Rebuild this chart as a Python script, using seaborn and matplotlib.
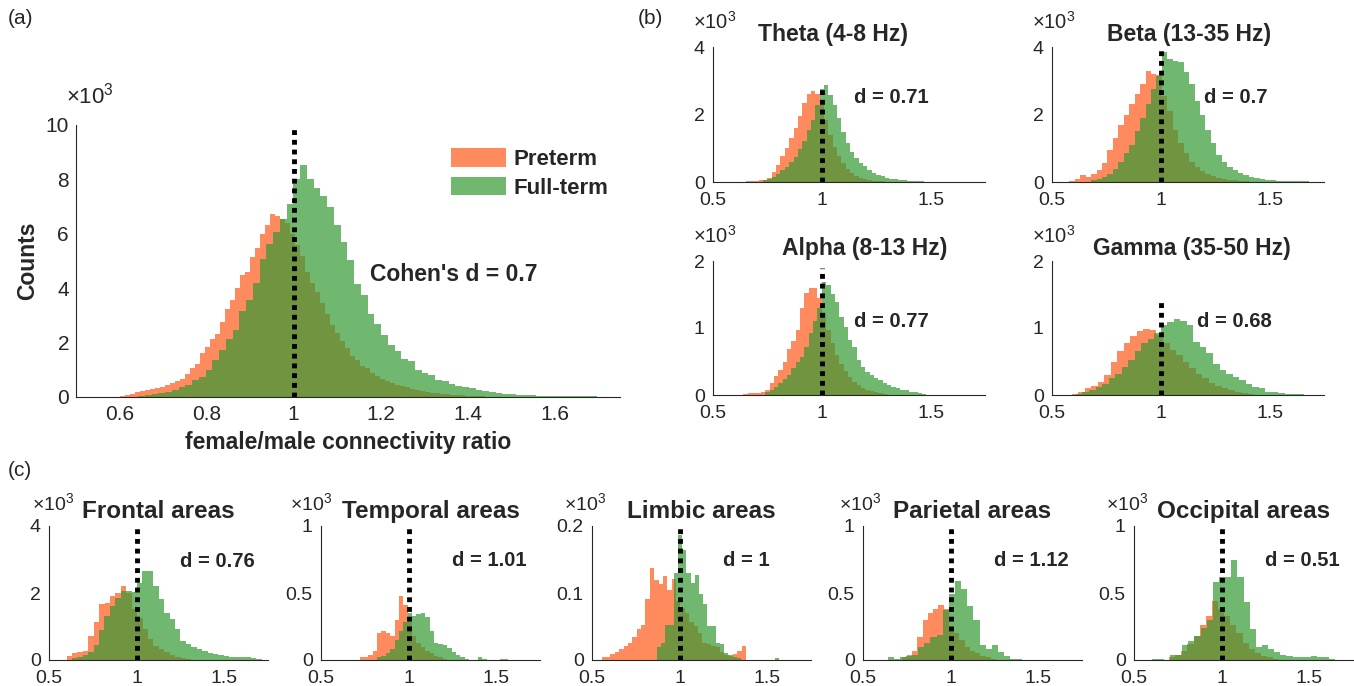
import numpy as np
import pandas as pd
import matplotlib
matplotlib.use("Agg")
import matplotlib.pyplot as plt
from matplotlib.patches import Patch
import seaborn as sns

# ---------------- data (counts in thousands) ----------------
series_names = ["Preterm", "Full-term"]

# (a) all connections
main_pre_start, main_pre_width = 0.60, 0.0115
main_pre = [0.03, 0.07, 0.12, 0.2, 0.22, 0.27, 0.3, 0.32, 0.38, 0.45, 0.52, 0.6, 0.68, 0.86,
            1.08, 1.23, 1.62, 1.82, 2.15, 2.33, 2.76, 3.25, 3.58, 3.99, 4.47, 4.6, 5.15, 5.46,
            5.98, 6.31, 6.72, 6.64, 6.55, 6.4, 6.0, 5.6, 5.2, 4.6, 4.2, 3.85, 3.45, 3.05, 2.65,
            2.35, 2.05, 1.8, 1.5, 1.35, 1.15, 1.05, 0.88, 0.76, 0.68, 0.6, 0.52, 0.45, 0.4, 0.35,
            0.3, 0.26, 0.22, 0.19, 0.16, 0.14, 0.12, 0.1, 0.08, 0.07, 0.06, 0.05, 0.04, 0.03, 0.02]
main_full_start, main_full_width = 0.643, 0.0155
main_full = [0.04, 0.08, 0.12, 0.16, 0.2, 0.27, 0.35, 0.45, 0.61, 0.74, 1.0, 1.35, 1.72, 2.15,
             2.48, 3.16, 3.56, 4.19, 5.09, 5.64, 6.07, 6.56, 7.11, 8.0, 8.52, 8.0, 7.7, 7.38, 7.0,
             6.31, 5.7, 5.05, 4.14, 3.74, 3.04, 2.7, 2.29, 1.93, 1.70, 1.41, 1.31, 1.0, 0.88, 0.82,
             0.64, 0.6, 0.48, 0.4, 0.36, 0.33, 0.27, 0.21, 0.17, 0.15, 0.12, 0.11, 0.09, 0.07, 0.06,
             0.05, 0.05, 0.04, 0.04, 0.03, 0.03, 0.02, 0.02, 0.02, 0.01]

# (b) frequency bands
theta_pre_start, theta_full_start, theta_width = 0.65, 0.73, 0.02
theta_pre = [0.02, 0.03, 0.04, 0.05, 0.07, 0.12, 0.3, 0.5, 0.76, 1.0, 1.3, 1.6, 1.95, 2.33, 2.62,
             2.7, 2.6, 2.38, 1.84, 1.4, 1.05, 0.76, 0.56, 0.38, 0.27, 0.18, 0.12, 0.08, 0.05, 0.04,
             0.03, 0.02]
theta_full = [0.05, 0.1, 0.15, 0.25, 0.35, 0.45, 0.6, 0.75, 0.98, 1.22, 1.55, 1.85, 2.28, 2.77,
              2.87, 2.57, 2.28, 1.89, 1.49, 1.17, 0.9, 0.71, 0.56, 0.46, 0.36, 0.28, 0.22, 0.17,
              0.13, 0.1, 0.08, 0.06, 0.05, 0.04, 0.03, 0.02, 0.02]

beta_pre_start, beta_full_start, beta_width = 0.58, 0.68, 0.025
beta_pre = [0.03, 0.08, 0.2, 0.15, 0.25, 0.35, 0.55, 0.95, 1.3, 1.7, 2.0, 2.3, 2.6, 2.9, 3.3, 3.2,
            3.16, 2.55, 2.1, 1.55, 1.15, 0.85, 0.6, 0.45, 0.33, 0.25, 0.18, 0.13, 0.1, 0.07, 0.05,
            0.04, 0.02]
beta_full = [0.05, 0.1, 0.15, 0.25, 0.4, 0.6, 0.85, 1.1, 1.5, 1.9, 2.3, 2.75, 3.15, 3.85, 3.65,
             3.6, 3.55, 3.25, 2.9, 2.4, 2.0, 1.55, 1.15, 0.8, 0.6, 0.45, 0.35, 0.28, 0.2, 0.15, 0.12,
             0.08, 0.07, 0.05, 0.04, 0.03, 0.03, 0.02, 0.02, 0.02]

alpha_pre_start, alpha_full_start, alpha_width = 0.64, 0.74, 0.02
alpha_pre = [0.02, 0.03, 0.03, 0.03, 0.04, 0.08, 0.18, 0.28, 0.38, 0.5, 0.68, 0.8, 0.97, 1.3, 1.52,
             1.6, 1.6, 1.45, 1.22, 0.97, 0.77, 0.6, 0.47, 0.36, 0.27, 0.2, 0.15, 0.11, 0.08, 0.06,
             0.04, 0.03, 0.02]
alpha_full = [0.05, 0.08, 0.12, 0.18, 0.24, 0.3, 0.4, 0.5, 0.57, 0.72, 0.92, 1.1, 1.3, 1.69, 1.64,
              1.51, 1.39, 1.17, 1.02, 0.82, 0.72, 0.52, 0.42, 0.35, 0.3, 0.26, 0.22, 0.18, 0.15,
              0.12, 0.1, 0.08, 0.07, 0.05, 0.04, 0.03, 0.02]

gamma_pre_start, gamma_full_start, gamma_width = 0.59, 0.61, 0.03
gamma_pre = [0.02, 0.05, 0.1, 0.14, 0.2, 0.3, 0.5, 0.66, 0.78, 0.88, 0.95, 0.99, 0.97, 0.9, 0.77,
             0.67, 0.6, 0.5, 0.4, 0.32, 0.25, 0.18, 0.13, 0.1, 0.07, 0.05, 0.03, 0.02]
gamma_full = [0.02, 0.04, 0.08, 0.12, 0.17, 0.25, 0.32, 0.42, 0.52, 0.65, 0.77, 0.84, 0.92, 1.04,
              1.09, 1.14, 1.1, 1.04, 0.79, 0.72, 0.62, 0.47, 0.37, 0.32, 0.27, 0.22, 0.17, 0.12,
              0.1, 0.05, 0.05, 0.03, 0.02, 0.02, 0.01]

# (c) brain areas
frontal_pre_start, frontal_full_start, frontal_width = 0.60, 0.63, 0.031
frontal_pre = [0.12, 0.2, 0.23, 0.28, 0.72, 1.12, 1.66, 1.69, 1.91, 1.99, 2.2, 2.0, 1.51, 1.26,
               0.92, 0.62, 0.42, 0.33, 0.23, 0.15, 0.1, 0.06, 0.04]
frontal_full = [0.05, 0.1, 0.15, 0.25, 0.45, 0.9, 1.3, 1.6, 1.85, 2.05, 2.05, 2.02, 2.3, 2.65,
                2.65, 2.2, 1.81, 1.41, 1.21, 0.92, 0.57, 0.47, 0.4, 0.33, 0.27, 0.21, 0.17, 0.15,
                0.12, 0.1, 0.1, 0.08, 0.08, 0.06, 0.03]

temporal_pre_start, temporal_full_start, temporal_width = 0.72, 0.82, 0.025
temporal_pre = [0.02, 0.02, 0.04, 0.07, 0.2, 0.22, 0.2, 0.18, 0.3, 0.48, 0.41, 0.28, 0.18, 0.13,
                0.1, 0.07, 0.05, 0.03, 0.02, 0.01]
temporal_full = [0.02, 0.03, 0.05, 0.08, 0.15, 0.22, 0.28, 0.35, 0.33, 0.34, 0.35, 0.32, 0.22,
                 0.13, 0.12, 0.11, 0.09, 0.06, 0.04, 0.02, 0.01, 0.0, 0.0, 0.02, 0.01, 0.0, 0.0,
                 0.0, 0.01, 0.01]

limbic_pre_start, limbic_full_start = 0.555, 0.871
limbic_pre_width, limbic_full_width = 0.025, 0.024
limbic_pre = [0.004, 0.005, 0.009, 0.012, 0.016, 0.021, 0.026, 0.034, 0.046, 0.052, 0.091, 0.137,
              0.12, 0.114, 0.125, 0.105, 0.121, 0.088, 0.078, 0.07, 0.056, 0.051, 0.04, 0.026,
              0.024, 0.021, 0.019, 0.012, 0.008, 0.006, 0.009, 0.014, 0.021]
limbic_full = [0.019, 0.025, 0.052, 0.052, 0.13, 0.187, 0.164, 0.13, 0.115, 0.127, 0.098, 0.083,
               0.051, 0.051, 0.026, 0.024, 0.011, 0.007, 0.004, 0.003, 0.0, 0.0, 0.0, 0.0, 0.0,
               0.0, 0.0, 0.0, 0.003]

parietal_pre_start, parietal_full_start = 0.72, 0.64
parietal_pre_width, parietal_full_width = 0.03, 0.035
parietal_pre = [0.02, 0.04, 0.07, 0.17, 0.3, 0.35, 0.38, 0.41, 0.38, 0.25, 0.2, 0.15, 0.1, 0.07,
                0.05, 0.03, 0.02, 0.01]
parietal_full = [0.02, 0.01, 0.02, 0.03, 0.04, 0.1, 0.13, 0.17, 0.19, 0.37, 0.49, 0.59, 0.53, 0.4,
                 0.3, 0.11, 0.08, 0.11, 0.06, 0.03, 0.01, 0.01]

occipital_pre_start, occipital_full_start, occipital_width = 0.70, 0.60, 0.035
occipital_pre = [0.02, 0.04, 0.07, 0.12, 0.18, 0.26, 0.33, 0.44, 0.38, 0.33, 0.26, 0.2, 0.13, 0.08,
                 0.05, 0.03, 0.02, 0.01]
occipital_full = [0.01, 0.01, 0.0, 0.04, 0.04, 0.11, 0.14, 0.18, 0.24, 0.3, 0.58, 0.62, 0.62, 0.75,
                  0.62, 0.43, 0.23, 0.1, 0.11, 0.08, 0.06, 0.04, 0.03, 0.02, 0.02, 0.02, 0.03,
                  0.02, 0.02, 0.01]

band_titles = ["Theta (4-8 Hz)", "Beta (13-35 Hz)", "Alpha (8-13 Hz)", "Gamma (35-50 Hz)"]
band_d = ["d = 0.71", "d = 0.7", "d = 0.77", "d = 0.68"]
area_titles = ["Frontal areas", "Temporal areas", "Limbic areas", "Parietal areas", "Occipital areas"]
area_d = ["d = 0.76", "d = 1.01", "d = 1", "d = 1.12", "d = 0.51"]

# ---------------- style ----------------
sns.set_style("white")
plt.rcParams["font.family"] = ["Liberation Sans", "DejaVu Sans"]
plt.rcParams["mathtext.fontset"] = "custom"
plt.rcParams["mathtext.rm"] = "Liberation Sans"
plt.rcParams["mathtext.it"] = "Liberation Sans"

PRE_C = (1.0, 0.35, 0.1)
FULL_C = (0.2, 0.6, 0.2)
ALPHA = 0.7
AX_C = "#262626"

W, H = 1354, 686
fig = plt.figure(figsize=(W / 100, H / 100), dpi=100)


def add_ax(l, t, r, b):
    return fig.add_axes([l / W, 1 - b / H, (r - l) / W, (b - t) / H])


def hist(ax, start, width, vals, color):
    vals = np.asarray(vals, dtype=float)
    n = len(vals)
    centers = start + width * (np.arange(n) + 0.5)
    df = pd.DataFrame({"ratio": centers, "count": vals})
    sns.histplot(data=df, x="ratio", weights="count", binwidth=width,
                 binrange=(start, start + width * n), common_bins=False,
                 color=color, alpha=ALPHA, linewidth=0, edgecolor="none", ax=ax)


def style(ax, yticks, ytl, xticks, xtl, fs=14, xpad=7, ypad=6):
    ax.set_xlim(0.5, 1.75)
    ax.set_ylim(0, yticks[-1])
    ax.set_yticks(yticks)
    ax.set_yticklabels(ytl)
    ax.set_xticks(xticks)
    ax.set_xticklabels(xtl)
    for s in ["top", "right"]:
        ax.spines[s].set_visible(False)
    for s in ["left", "bottom"]:
        ax.spines[s].set_color(AX_C)
        ax.spines[s].set_linewidth(0.8)
    ax.tick_params(direction="in", length=4, width=0.8, color=AX_C, labelcolor=AX_C,
                   labelsize=fs)
    ax.tick_params(axis="x", pad=xpad)
    ax.tick_params(axis="y", pad=ypad)
    ax.set_xlabel("")
    ax.set_ylabel("")


def vline(ax, h):
    ax.plot([1, 1], [0, h], color="k", lw=3.5, linestyle=(0, (1, 1)),
            solid_capstyle="butt", dash_capstyle="butt", zorder=5)


def exp_label(ax, x, y, fs=12):
    ax.text(x, y, r"$\times10^{3}$", transform=ax.transAxes, fontsize=fs, color=AX_C,
            ha="left", va="center")


# ---------------- (a) ----------------
ax = add_ax(76, 125, 620, 397)
hist(ax, main_pre_start, main_pre_width, main_pre, PRE_C)
hist(ax, main_full_start, main_full_width, main_full, FULL_C)
style(ax, [0, 2, 4, 6, 8, 10], ["0", "2", "4", "6", "8", "10"],
      [0.6, 0.8, 1.0, 1.2, 1.4, 1.6], ["0.6", "0.8", "1", "1.2", "1.4", "1.6"], fs=15,
      xpad=6, ypad=5)
vline(ax, 10)
ax.set_ylabel("Counts", fontsize=16.5, fontweight="bold", labelpad=5)
ax.set_xlabel("female/male connectivity ratio", fontsize=16.5, fontweight="bold", labelpad=5)
exp_label(ax, -0.018, 1.11, fs=16)
ax.text(1.175, 4.5, "Cohen's d = 0.7", fontsize=16.5, fontweight="bold", va="center", ha="left")
handles = [Patch(facecolor=PRE_C, alpha=ALPHA, edgecolor="none", label=series_names[0]),
           Patch(facecolor=FULL_C, alpha=ALPHA, edgecolor="none", label=series_names[1])]
leg = ax.legend(handles=handles, loc="upper left", bbox_to_anchor=(0.69, 0.915), frameon=False,
                prop={"weight": "bold", "size": 16}, handlelength=2.45, handleheight=0.9,
                labelspacing=0.3, handletextpad=0.35, borderpad=0, borderaxespad=0)

# ---------------- (b) ----------------
band_boxes = [(713, 47, 985, 182), (1052, 47, 1324, 182), (713, 261, 985, 395), (1052, 261, 1324, 395)]
band_data = [
    (theta_pre_start, theta_width, theta_pre, theta_full_start, theta_width, theta_full, [0, 2, 4], 2.85, 2.5),
    (beta_pre_start, beta_width, beta_pre, beta_full_start, beta_width, beta_full, [0, 2, 4], 4.0, 2.5),
    (alpha_pre_start, alpha_width, alpha_pre, alpha_full_start, alpha_width, alpha_full, [0, 1, 2], 1.9, 1.09),
    (gamma_pre_start, gamma_width, gamma_pre, gamma_full_start, gamma_width, gamma_full, [0, 1, 2], 1.45, 1.09),
]
band_dx = [1.15, 1.2, 1.15, 1.165]
band_title_x = [0.443, 0.504, 0.557, 0.515]
for i, (box, dat) in enumerate(zip(band_boxes, band_data)):
    ps, pw, pv, fs_, fw, fv, yt, lh, dy = dat
    ax = add_ax(*box)
    hist(ax, ps, pw, pv, PRE_C)
    hist(ax, fs_, fw, fv, FULL_C)
    style(ax, yt, [str(v) for v in yt], [0.5, 1.0, 1.5], ["0.5", "1", "1.5"], fs=14)
    vline(ax, lh)
    ax.set_title(band_titles[i], fontsize=16.5, fontweight="bold", pad=4, x=band_title_x[i])
    exp_label(ax, -0.074, 1.185, fs=14.5)
    ax.text(band_dx[i], dy, band_d[i], fontsize=14.5, fontweight="bold", va="center", ha="left")

# ---------------- (c) ----------------
area_lefts = [49, 321, 592, 863, 1134]
area_exp_dx = [-17, -31, -28, -24, -28]
area_data = [
    (frontal_pre_start, frontal_width, frontal_pre, frontal_full_start, frontal_width, frontal_full,
     [0, 2, 4], ["0", "2", "4"], 4.0, 2.95),
    (temporal_pre_start, temporal_width, temporal_pre, temporal_full_start, temporal_width, temporal_full,
     [0, 0.5, 1], ["0", "0.5", "1"], 1.0, 0.74),
    (limbic_pre_start, limbic_pre_width, limbic_pre, limbic_full_start, limbic_full_width, limbic_full,
     [0, 0.1, 0.2], ["0", "0.1", "0.2"], 0.2, 0.148),
    (parietal_pre_start, parietal_pre_width, parietal_pre, parietal_full_start, parietal_full_width,
     parietal_full, [0, 0.5, 1], ["0", "0.5", "1"], 1.0, 0.74),
    (occipital_pre_start, occipital_width, occipital_pre, occipital_full_start, occipital_width,
     occipital_full, [0, 0.5, 1], ["0", "0.5", "1"], 1.0, 0.74),
]
for i, (l, dat) in enumerate(zip(area_lefts, area_data)):
    ps, pw, pv, fs_, fw, fv, yt, ytl, lh, dy = dat
    ax = add_ax(l, 526, l + 219, 660)
    hist(ax, ps, pw, pv, PRE_C)
    hist(ax, fs_, fw, fv, FULL_C)
    style(ax, yt, ytl, [0.5, 1.0, 1.5], ["0.5", "1", "1.5"], fs=14)
    vline(ax, lh)
    ax.set_title(area_titles[i], fontsize=17.5, fontweight="bold", pad=6)
    exp_label(ax, area_exp_dx[i] / 219, 1.17, fs=14)
    ax.text(1.25, dy, area_d[i], fontsize=14.5, fontweight="bold", va="center", ha="left")

# panel labels
fig.text(8 / W, 1 - 18 / H, "(a)", fontsize=15, va="center", ha="left")
fig.text(638 / W, 1 - 18 / H, "(b)", fontsize=15, va="center", ha="left")
fig.text(8 / W, 1 - 470 / H, "(c)", fontsize=15, va="center", ha="left")

fig.savefig("out.png", dpi=100)
